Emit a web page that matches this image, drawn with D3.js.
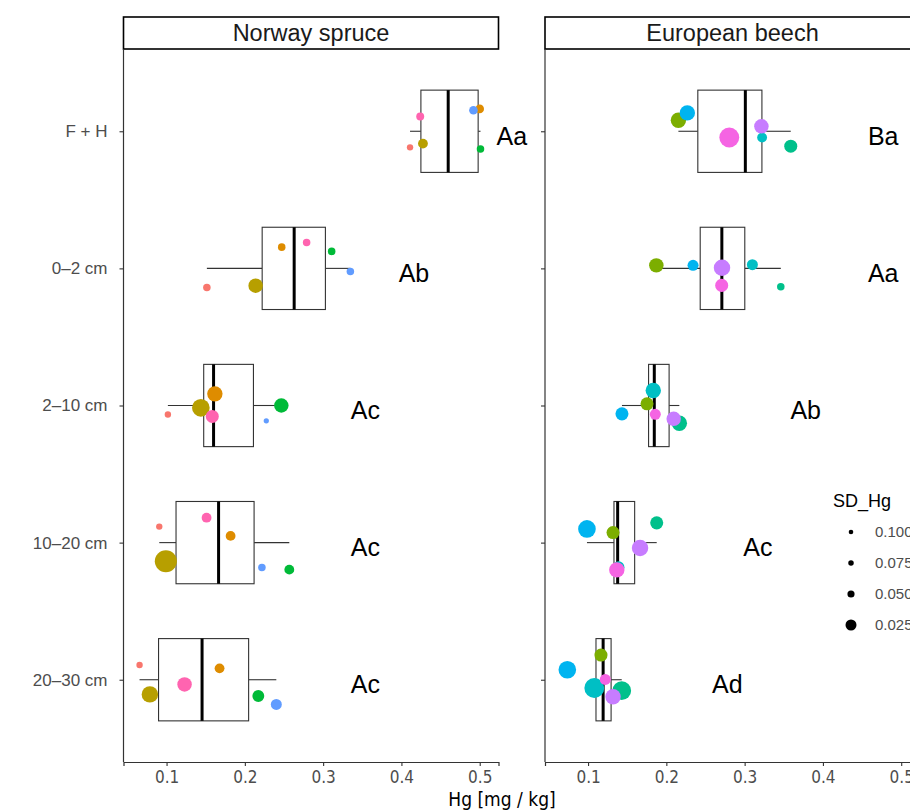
<!DOCTYPE html>
<html><head><meta charset="utf-8">
<script src="https://cdn.jsdelivr.net/npm/d3@7"></script>
<style>body{margin:0;background:#fff;} svg{display:block;}</style>
</head><body><svg id="chart" width="910" height="812"></svg>
<script>
// ---------------- data ----------------
const depths = ["F + H", "0–2 cm", "2–10 cm", "10–20 cm", "20–30 cm"];
const species = ["Norway spruce", "European beech"];
const xTicks = [0.1, 0.2, 0.3, 0.4, 0.5];
const sdBreaks = [0.100, 0.075, 0.050, 0.025];

// spruce sites (columns) : 6 sites
const spruceColors = ["#F8766D", "#DE8C00", "#B79F00", "#00BA38", "#619CFF", "#FF64B0"];
const spruceHg = [
  [0.411, 0.500, 0.4275, 0.501, 0.492, 0.424],
  [0.1515, 0.2471, 0.2138, 0.3109, 0.3348, 0.2789],
  [0.1017, 0.1617, 0.1438, 0.2466, 0.2274, 0.1584],
  [0.0907, 0.1818, 0.0991, 0.2568, 0.2218, 0.1511],
  [0.0655, 0.1677, 0.0787, 0.2172, 0.2402, 0.123]
];
const spruceSD = [
  [0.060, 0.037, 0.030, 0.046, 0.037, 0.042],
  [0.046, 0.046, 0.016, 0.046, 0.046, 0.046],
  [0.060, 0.0145, 0.0116, 0.016, 0.081, 0.019],
  [0.060, 0.030, 0.008, 0.030, 0.046, 0.030],
  [0.060, 0.030, 0.013, 0.022, 0.025, 0.016]
];
const spruceJitter = [
  [0.117, -0.163, 0.09, 0.129, -0.153, -0.107],
  [0.139, -0.155, 0.126, -0.124, 0.022, -0.188],
  [0.066, -0.085, 0.017, 0.0, 0.112, 0.08],
  [-0.117, -0.049, 0.136, 0.197, 0.182, -0.182],
  [-0.107, -0.083, 0.107, 0.119, 0.18, 0.034]
];

// beech sites (columns) : 6 sites
const beechColors = ["#7CAE00", "#00C08B", "#00BFC4", "#00B4F0", "#C77CFF", "#F564E3"];
const beechHg = [
  [0.2154, 0.3589, 0.3223, 0.2268, 0.3214, 0.2804],
  [0.1872, 0.3462, 0.3099, 0.2341, 0.2711, 0.2707],
  [0.1753, 0.2166, 0.1833, 0.1433, 0.2094, 0.1859],
  [0.1319, 0.1877, 0.1389, 0.0986, 0.1664, 0.1367],
  [0.1165, 0.1430, 0.1080, 0.0735, 0.1319, 0.1220]
];
const beechSD = [
  [0.0145, 0.019, 0.030, 0.0145, 0.016, 0.0095],
  [0.016, 0.046, 0.025, 0.025, 0.013, 0.019],
  [0.019, 0.0145, 0.0145, 0.019, 0.016, 0.025],
  [0.019, 0.019, 0.022, 0.0116, 0.013, 0.0145],
  [0.019, 0.0105, 0.0095, 0.0116, 0.0145, 0.025]
];
const beechJitter = [
  [-0.08, 0.109, 0.046, -0.134, -0.036, 0.046],
  [-0.022, 0.134, -0.027, -0.022, -0.005, 0.124],
  [-0.012, 0.129, -0.109, 0.061, 0.097, 0.064],
  [-0.073, -0.144, 0.18, -0.1, 0.039, 0.199],
  [-0.18, 0.08, 0.06, -0.073, 0.124, -0.002]
];

const spruceLetters = ["Aa", "Ab", "Ac", "Ac", "Ac"];
const spruceLetterX = [0.541, 0.416, 0.354, 0.354, 0.354];
const beechLetters = ["Ba", "Aa", "Ab", "Ac", "Ad"];
const beechLetterX = [0.477, 0.477, 0.378, 0.317, 0.278];

// ---------------- layout ----------------
const svg = d3.select("#chart");
const panelW = 375, panelTop = 49, panelBottom = 762;
const panelX = [123.5, 545];
const stripTop = 17;
const x = d3.scaleLinear().domain([0.045, 0.524]).range([0, panelW]);
const y = d3.scalePoint().domain(depths).range([panelTop, panelBottom]).padding(0.6);
const step = y.step();
const r = d3.scalePow().exponent(-0.6).domain([0.1, 0.025]).range([2.3, 5.5]);

const AX = "#333333";
const TXT = "#4D4D4D";
const SANS = "'Liberation Sans', Arial, sans-serif";
const NARROW = "'Liberation Sans Narrow', 'Arial Narrow', 'DejaVu Sans Condensed', sans-serif";

const panels = [
  {name: species[0], hg: spruceHg, sd: spruceSD, jit: spruceJitter, col: spruceColors, letters: spruceLetters, lx: spruceLetterX},
  {name: species[1], hg: beechHg, sd: beechSD, jit: beechJitter, col: beechColors, letters: beechLetters, lx: beechLetterX}
];

panels.forEach((p, pi) => {
  const g = svg.append("g").attr("transform", `translate(${panelX[pi]},0)`);

  // strip
  g.append("rect").attr("x", 0).attr("y", stripTop).attr("width", panelW).attr("height", panelTop - stripTop)
    .attr("fill", "#fff").attr("stroke", "#000").attr("stroke-width", 1.6);
  g.append("text").attr("x", panelW / 2).attr("y", (stripTop + panelTop) / 2).attr("dy", "0.36em")
    .attr("text-anchor", "middle").attr("font-family", SANS).attr("font-size", 23.5).attr("fill", "#1A1A1A")
    .text(p.name);

  // boxplots
  depths.forEach((d, di) => {
    const vals = p.hg[di].slice().sort(d3.ascending);
    const q1 = d3.quantile(vals, 0.25), med = d3.quantile(vals, 0.5), q3 = d3.quantile(vals, 0.75);
    const iqr = q3 - q1;
    const lo = d3.min(vals.filter(v => v >= q1 - 1.5 * iqr));
    const hi = d3.max(vals.filter(v => v <= q3 + 1.5 * iqr));
    const cy = y(d), h = step * 0.6;
    const bg = g.append("g");
    bg.append("line").attr("x1", x(lo)).attr("x2", x(q1)).attr("y1", cy).attr("y2", cy).attr("stroke", AX).attr("stroke-width", 1.1);
    bg.append("line").attr("x1", x(q3)).attr("x2", x(hi)).attr("y1", cy).attr("y2", cy).attr("stroke", AX).attr("stroke-width", 1.1);
    bg.append("rect").attr("x", x(q1)).attr("y", cy - h / 2).attr("width", x(q3) - x(q1)).attr("height", h)
      .attr("fill", "#fff").attr("stroke", AX).attr("stroke-width", 1.1);
    bg.append("line").attr("x1", x(med)).attr("x2", x(med)).attr("y1", cy - h / 2).attr("y2", cy + h / 2)
      .attr("stroke", "#000").attr("stroke-width", 3);
  });

  // points
  depths.forEach((d, di) => {
    const pts = p.hg[di].map((v, si) => ({v, sd: p.sd[di][si], j: p.jit[di][si], c: p.col[si]}));
    g.append("g").selectAll("circle").data(pts).join("circle")
      .attr("cx", q => x(q.v)).attr("cy", q => y(d) + q.j * step).attr("r", q => r(q.sd))
      .attr("fill", q => q.c);
  });

  // letters
  depths.forEach((d, di) => {
    g.append("text").attr("x", x(p.lx[di])).attr("y", y(d)).attr("dy", "0.55em")
      .attr("text-anchor", "middle").attr("font-family", SANS).attr("font-size", 25).attr("fill", "#000")
      .text(p.letters[di]);
  });

  // axes
  const xa = g.append("g").attr("transform", `translate(0,${panelBottom})`)
    .call(d3.axisBottom(x).tickValues(xTicks).tickFormat(d3.format(".1f")).tickSize(4).tickPadding(5));
  xa.select(".domain").attr("stroke", AX).attr("stroke-width", 1.2);
  xa.selectAll(".tick line").attr("stroke", AX).attr("stroke-width", 1.1);
  xa.selectAll(".tick text").attr("font-family", NARROW).attr("font-size", 17).attr("fill", TXT);

  const ya = g.append("g").call(d3.axisLeft(y).tickSize(4).tickPadding(12));
  ya.select(".domain").attr("d", `M0,${panelTop}V${panelBottom}`).attr("stroke", AX).attr("stroke-width", 1.2);
  ya.selectAll(".tick line").attr("stroke", AX).attr("stroke-width", 1.1);
  ya.selectAll(".tick text").attr("font-family", SANS).attr("font-size", 17).attr("fill", TXT)
    .style("display", pi === 0 ? null : "none");
});

// x-axis title
svg.append("text").attr("x", 502).attr("y", 806).attr("text-anchor", "middle")
  .attr("font-family", NARROW).attr("font-size", 19).attr("fill", "#000").text("Hg [mg / kg]");

// legend
const lg = svg.append("g").attr("transform", "translate(833,0)");
lg.append("text").attr("x", 0).attr("y", 507).attr("font-family", SANS).attr("font-size", 18).attr("fill", "#000").text("SD_Hg");
lg.selectAll("g.item").data(sdBreaks).join("g").attr("class", "item")
  .attr("transform", (d, i) => `translate(0,${532 + i * 31})`)
  .each(function (d) {
    const it = d3.select(this);
    it.append("circle").attr("cx", 18).attr("cy", 0).attr("r", r(d)).attr("fill", "#000");
    it.append("text").attr("x", 42).attr("y", 0).attr("dy", "0.36em").attr("font-family", SANS)
      .attr("font-size", 15).attr("fill", TXT).text(d3.format(".3f")(d));
  });
</script>
</body></html>
